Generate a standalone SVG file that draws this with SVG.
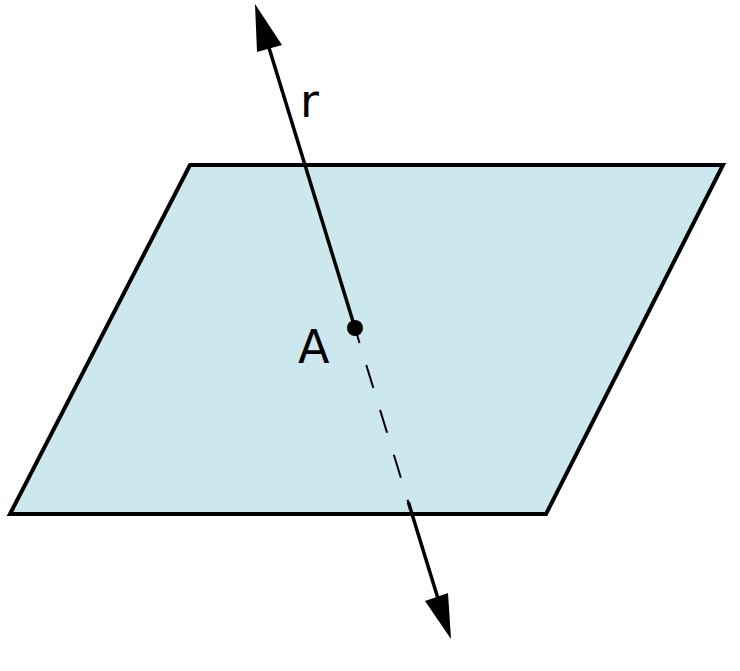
<svg xmlns="http://www.w3.org/2000/svg" width="740" height="671" viewBox="0 0 740 671">
  <style>
    .plane { fill: #cce7ed; stroke: #000; stroke-width: 4; stroke-linejoin: miter; }
    .line { stroke: #000; stroke-width: 3.5; fill: none; }
    .dash { stroke: #000; stroke-width: 2; fill: none; stroke-dasharray: 24 23; }
    .lbl { font-family: "DejaVu Sans", "Liberation Sans", sans-serif; font-size: 46px; fill: #000; }
  </style>
  <rect width="740" height="671" fill="#fff"/>
  <g id="plane">
    <polygon class="plane" points="190,165 723,165 546,514 10,514"/>
  </g>
  <g id="connectors">
    <line class="dash" x1="352.5" y1="320" x2="408.3" y2="502"/>
    <line class="line" x1="408.3" y1="502" x2="440" y2="605"/>
    <polygon points="451,639 425,601 448,593" fill="#000"/>
    <line class="line" x1="355" y1="328" x2="266" y2="38"/>
    <polygon points="255,4 257,52 282,45" fill="#000"/>
  </g>
  <g id="pointA">
    <circle cx="355" cy="328" r="8" fill="#000"/>
    <text class="lbl" x="298" y="363">A</text>
  </g>
  <g id="label-r">
    <text class="lbl" x="300" y="117">r</text>
  </g>
</svg>
